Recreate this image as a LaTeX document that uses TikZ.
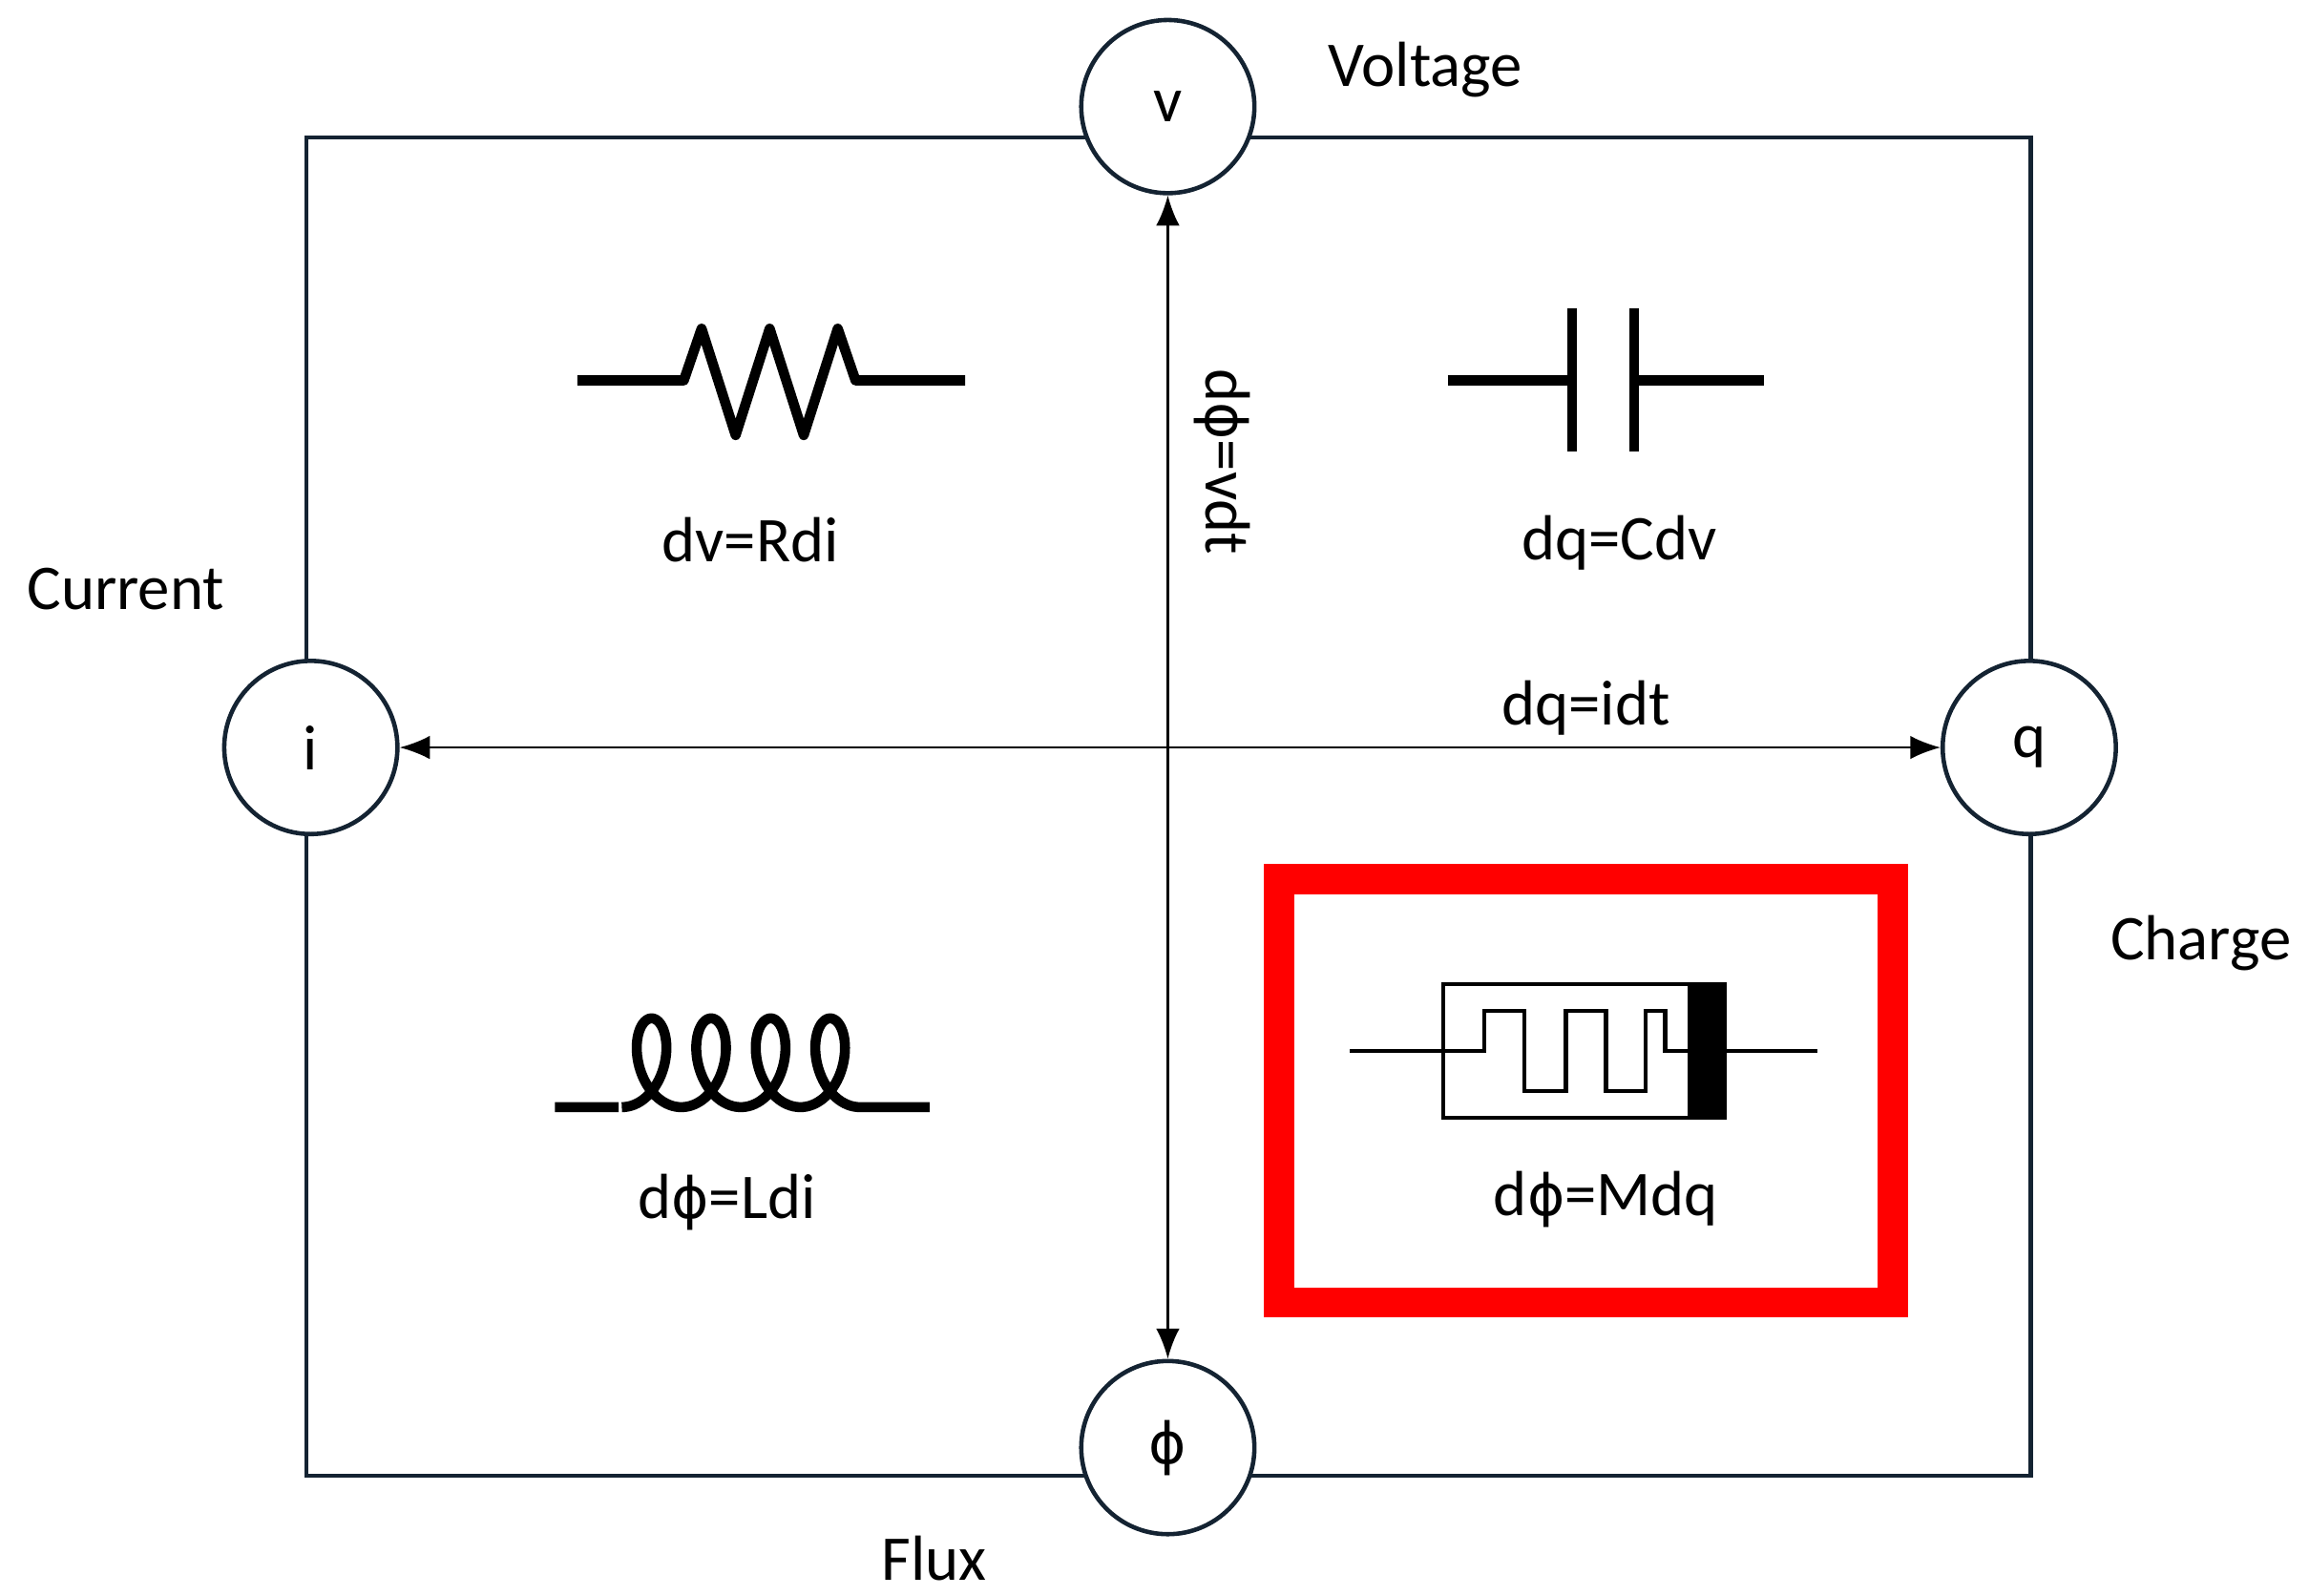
\documentclass[tikz,border=0pt]{standalone}
\usepackage{fontspec}
\setmainfont{Carlito}
\newfontfamily\phifont{DejaVu Sans}
\usetikzlibrary{positioning, arrows.meta, calc}
\definecolor{frame}{RGB}{20,35,50}
\newcommand{\fph}{{\phifont\fontsize{17}{22}\selectfont ϕ}}

\begin{document}
\begin{tikzpicture}[
    x=0.0155cm, y=-0.0155cm,
    every node/.style={font=\fontsize{19}{22}\selectfont},
    var/.style={circle, draw=frame, line width=1.3pt, fill=white,
                minimum size=117*0.0155cm, inner sep=0pt},
    sym/.style={line width=3pt, line join=round},
    link/.style={line width=0.7pt, {Latex[length=9pt,width=7pt]}-{Latex[length=9pt,width=7pt]}}
]
    \useasboundingbox (0,0) rectangle (1560,1078);

    % Frame
    \draw[frame, line width=1.3pt] (207,93) rectangle (1372,997);

    % Variables
    \node[var] (v) at (789,72) {v};
    \node[var] (i) at (210,505) {i};
    \node[var] (q) at (1371,505) {q};
    \node[var] (phi) at (789,978) {\fph};

    \node (voltage) at (963,47) {Voltage};
    \node (current) at (85,398) {Current};
    \node (charge) at (1487,637) {Charge};
    \node (flux) at (631,1053) {Flux};

    % Relations
    \draw[link] (i) -- (q) node[pos=0.77, above] {dq=idt};
    \draw[link] (v) -- (phi);
    \node[rotate=-90] (fluxrel) at (826,312) {d\fph=vdt};

    % Resistor
    \draw[sym] (390,257) -- (462,257) -- (474,222) -- (497,294) -- (520,222)
        -- (543,294) -- (566,222) -- (578,257) -- (652,257);
    \node (rlabel) at (507,365) {dv=Rdi};

    % Capacitor
    \draw[sym] (978,257) -- (1062,257);
    \draw[sym] (1062,208) -- (1062,305);
    \draw[sym] (1104,208) -- (1104,305);
    \draw[sym] (1104,257) -- (1192,257);
    \node (clabel) at (1094,367) {dq=Cdv};

    % Inductor
    \draw[sym] (375,748) -- (418,748)
        plot[domain=180:1620, samples=300, variable=\t]
        ({400+6.4*rad(\t)-19*sin(\t)}, {718-30*cos(\t)})
        -- (628,748);
    \node (llabel) at (491,812) {d\fph=Ldi};

    % Memristor
    \draw[red, line width=9pt] (864,594) rectangle (1279,880);
    \draw[line width=1.2pt] (912,710) -- (975,710);
    \draw[line width=1.2pt] (1165,710) -- (1228,710);
    \draw[line width=1.2pt] (975,665) rectangle (1165,755);
    \fill (1140,665) rectangle (1165,755);
    \draw[line width=1.2pt] (975,710) -- (1003,710) -- (1003,683) -- (1030,683)
        -- (1030,737) -- (1058,737) -- (1058,683) -- (1085,683) -- (1085,737)
        -- (1112,737) -- (1112,683) -- (1125,683) -- (1125,710) -- (1140,710);
    \node (mlabel) at (1085,810) {d\fph=Mdq};
\end{tikzpicture}
\end{document}
